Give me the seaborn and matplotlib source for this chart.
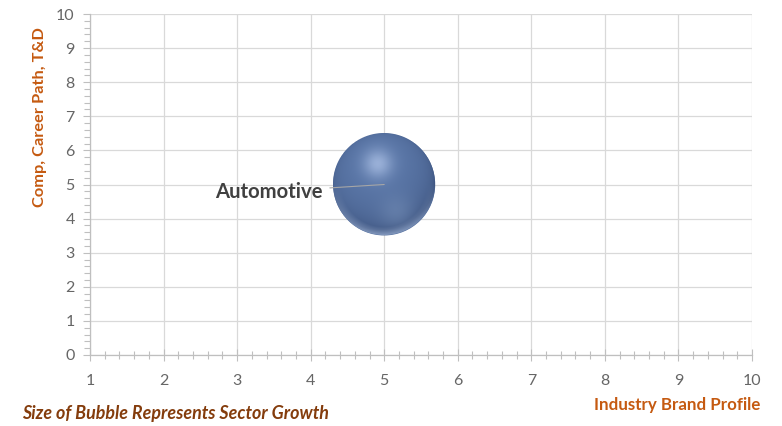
import numpy as np
import pandas as pd
import seaborn as sns
import matplotlib
matplotlib.use("Agg")
import matplotlib.pyplot as plt
from matplotlib.ticker import MultipleLocator
from matplotlib.offsetbox import OffsetImage, AnnotationBbox

# Sector data
sectors = ["Automotive"]
brand_profile = [5]          # x: Industry Brand Profile
comp_career = [5]            # y: Comp, Career Path, T&D
growth_size = [5390]         # bubble area (points^2), represents sector growth

x_ticks = [1, 2, 3, 4, 5, 6, 7, 8, 9, 10]
y_ticks = [0, 1, 2, 3, 4, 5, 6, 7, 8, 9, 10]

df = pd.DataFrame({"sector": sectors, "x": brand_profile,
                   "y": comp_career, "size": growth_size})

sns.set_theme(style="white")
plt.rcParams["font.family"] = ["Lato", "DejaVu Sans"]

DPI = 100
fig = plt.figure(figsize=(7.82, 4.26), dpi=DPI)
ax = fig.add_axes([90 / 782, 71 / 426, 662 / 782, 341 / 426])

base_color = "#526e9e"
sns.scatterplot(data=df, x="x", y="y", size="size", sizes=(growth_size[0], growth_size[0]),
                color=base_color, edgecolor="none", legend=False, ax=ax, zorder=3)


def sphere_image(radius_px):
    n = int(round(2 * radius_px))
    yy, xx = np.mgrid[0:n, 0:n]
    u = (xx + 0.5 - n / 2) / (n / 2)
    v = -(yy + 0.5 - n / 2) / (n / 2)
    d = np.sqrt(u ** 2 + v ** 2)
    z = np.sqrt(np.clip(1 - d ** 2, 0, 1))
    base = np.array([0.35, 0.46, 0.65])
    dark = np.array([0.25, 0.34, 0.51])
    hi = np.array([0.70, 0.78, 0.92])
    # diffuse term from a light above and in front
    L = np.array([-0.15, 0.45, 0.88]); L = L / np.linalg.norm(L)
    diff = np.clip(u * L[0] + v * L[1] + z * L[2], 0, 1)
    col = dark[None, None, :] + (base - dark)[None, None, :] * (diff[..., None] ** 0.7) * 1.1
    # soft specular spot
    hx, hy = -0.12, 0.40
    spec = np.exp(-(((u - hx) ** 2 + (v - hy) ** 2) / 0.08))
    col = col + (hi - col) * (spec[..., None] * 0.7)
    # faint reflected light lower right
    rx, ry = 0.25, -0.55
    refl = np.exp(-(((u - rx) ** 2 + (v - ry) ** 2) / 0.12))
    col = col + (np.array([0.52, 0.62, 0.77]) - col) * (refl[..., None] * 0.35)
    # light rim at the bottom edge
    rim = np.clip((d - 0.84) / 0.16, 0, 1) * np.clip(-v, 0, 1)
    col = col + (np.array([0.66, 0.74, 0.87]) - col) * (rim[..., None] * 0.65)
    col = np.clip(col, 0, 1)
    alpha = np.clip((1 - d) * n / 2 + 0.5, 0, 1)
    return np.dstack([col, alpha])


for _, row in df.iterrows():
    r_px = np.sqrt(row["size"]) / 2 * DPI / 72
    img = sphere_image(r_px)
    oi = OffsetImage(img, zoom=72 / DPI, interpolation="bilinear")
    ab = AnnotationBbox(oi, (row["x"], row["y"]), frameon=False, zorder=4)
    ax.add_artist(ab)
    ax.annotate(row["sector"], xy=(row["x"], row["y"]), xytext=(-44.5, -5.2),
                textcoords="offset points", ha="right", va="center",
                fontsize=14.6, fontweight="bold", color="#404040",
                arrowprops=dict(arrowstyle="-", color="#a6a6a6", lw=0.8,
                                shrinkA=3, shrinkB=0), zorder=5)

ax.set_xlim(1, 10)
ax.set_ylim(0, 10)
ax.set_xticks(x_ticks)
ax.set_yticks(y_ticks)
ax.xaxis.set_minor_locator(MultipleLocator(0.2))
ax.yaxis.set_minor_locator(MultipleLocator(0.2))
ax.grid(True, which="major", color="#d9d9d9", lw=0.9)
ax.set_axisbelow(True)
for s in ["top", "right"]:
    ax.spines[s].set_visible(False)
for s in ["left", "bottom"]:
    ax.spines[s].set_color("#bfbfbf")
    ax.spines[s].set_linewidth(0.9)
ax.tick_params(axis="both", which="major", labelsize=11.5, labelcolor="#666666",
               color="#bfbfbf", width=0.8, length=5, direction="out")
ax.tick_params(axis="y", which="major", pad=6)
ax.tick_params(axis="x", which="major", pad=10, direction="inout", length=8)
ax.tick_params(axis="x", which="minor", color="#bfbfbf", width=0.8, length=6, direction="inout")
ax.tick_params(axis="y", which="minor", color="#bfbfbf", width=0.8, length=4, direction="out")
ax.tick_params(left=True, bottom=True, which="both")
ax.set_xlabel("")
ax.set_ylabel("")

fig.text(40 / 782, 1 - 117 / 426, "Comp, Career Path, T&D", rotation=90,
         ha="center", va="center", fontsize=11.8, fontweight="bold", color="#c55a11")
fig.text(760 / 782, 1 - 405 / 426, "Industry Brand Profile", ha="right", va="center",
         fontsize=12.2, fontweight="bold", color="#c55a11")
fig.text(22 / 782, 1 - 413 / 426, "Size of Bubble Represents Sector Growth", ha="left",
         va="center", fontsize=12.9, fontweight="bold", fontstyle="italic", color="#843c0c")

fig.savefig("out.png", dpi=DPI)
